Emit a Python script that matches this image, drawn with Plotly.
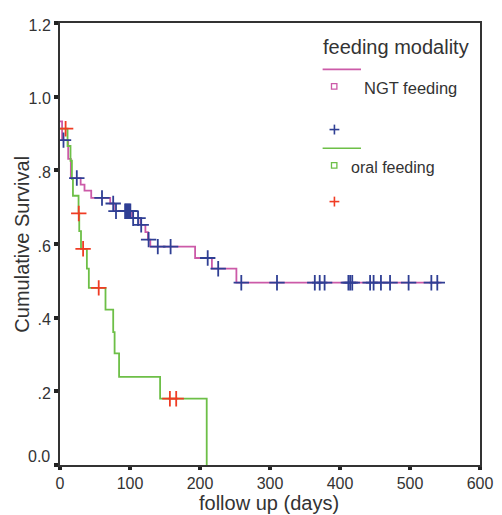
import plotly.graph_objects as go

# ---- data ----
ngt_step_days = [0, 3, 11.7, 15.5, 29.5, 35, 44.6, 71.7, 77, 103, 115, 122, 125.6, 129, 193, 217, 252, 545]
ngt_step_surv = [0.933, 0.882, 0.831, 0.779, 0.761, 0.745, 0.725, 0.710, 0.689, 0.670, 0.652, 0.632, 0.612, 0.593, 0.562, 0.533, 0.495, 0.495]
ngt_censored_days = [5, 24, 60, 76, 80, 93, 94.5, 96, 97.5, 99, 100.5, 104.5, 111.5, 116, 126.6, 139.7, 158,
                     211, 226, 259, 310, 364, 371, 378, 412, 414.5, 417.5, 443, 448, 458.5, 471.5, 498, 530.5, 539]

oral_step_days = [0, 10.8, 15, 17, 18.5, 26.5, 27.5, 30, 38.4, 41.2, 65, 76, 78, 84.4, 143, 209.6]
oral_step_surv = [0.913, 0.866, 0.826, 0.777, 0.731, 0.683, 0.635, 0.587, 0.533, 0.481, 0.422, 0.361, 0.303, 0.239, 0.180, 0.0]
oral_censored_days = [8, 26.8, 33, 55.3, 157, 166]

y_tick_vals = [0, 0.2, 0.4, 0.6, 0.8, 1.0, 1.2]
y_tick_text = ["", ".2", ".4", ".6", ".8", "1.0", "1.2"]   # "0.0" is placed separately (raised above the axis)
x_tick_vals = [0, 100, 200, 300, 400, 500, 600]

PINK = "#cc5aa8"
GREEN = "#6dbf47"
BLUE = "#2f3f94"
RED = "#f03c24"
AXC = "#333333"
FONT = "Liberation Sans, Arial, sans-serif"


def surv_at(days, surv, t):
    val = surv[0]
    for d, s in zip(days, surv):
        if d <= t:
            val = s
    return val


ngt_cens_y = [surv_at(ngt_step_days, ngt_step_surv, t) for t in ngt_censored_days]
oral_cens_y = [surv_at(oral_step_days, oral_step_surv, t) for t in oral_censored_days]

fig = go.Figure()
fig.add_trace(go.Scatter(x=ngt_step_days, y=ngt_step_surv, mode="lines", line_shape="hv",
                         line=dict(color=PINK, width=1.8), showlegend=False, hoverinfo="skip"))
fig.add_trace(go.Scatter(x=oral_step_days, y=oral_step_surv, mode="lines", line_shape="hv",
                         line=dict(color=GREEN, width=1.8), showlegend=False, hoverinfo="skip"))
fig.add_trace(go.Scatter(x=ngt_censored_days, y=ngt_cens_y, mode="markers",
                         marker=dict(symbol="cross-thin", size=11, line=dict(color=BLUE, width=1.8)),
                         showlegend=False))
fig.add_trace(go.Scatter(x=oral_censored_days, y=oral_cens_y, mode="markers",
                         marker=dict(symbol="cross-thin", size=11, line=dict(color=RED, width=1.8)),
                         showlegend=False))

# page is offset by the default 8px body margin
OFF = 8
PAGE_W, PAGE_H = 502, 515
# plot area in page pixels
L, R, T, B = 60, 487, 17, 465
W, H = R - L, B - T


def px(x):
    return (x - L) / W


def py(y):
    return (B - y) / H


shapes = []
annotations = []

# legend (drawn manually)
annotations.append(dict(text="feeding modality", x=px(325), y=py(41), xref="paper", yref="paper",
                        xanchor="left", yanchor="middle", showarrow=False,
                        font=dict(family=FONT, size=20, color=AXC)))
shapes.append(dict(type="line", xref="paper", yref="paper", x0=px(327), x1=px(366), y0=py(64), y1=py(64),
                   line=dict(color=PINK, width=1.6)))
shapes.append(dict(type="rect", xref="paper", yref="paper", x0=px(336), x1=px(341.5), y0=py(78.5), y1=py(84),
                   line=dict(color=PINK, width=1.3)))
annotations.append(dict(text="NGT feeding", x=px(367), y=py(83), xref="paper", yref="paper",
                        xanchor="left", yanchor="middle", showarrow=False,
                        font=dict(family=FONT, size=16.5, color=AXC)))
for cy, col in [(125, BLUE), (198, RED)]:
    shapes.append(dict(type="line", xref="paper", yref="paper", x0=px(334), x1=px(344), y0=py(cy), y1=py(cy),
                       line=dict(color=col, width=1.6)))
    shapes.append(dict(type="line", xref="paper", yref="paper", x0=px(339), x1=px(339), y0=py(cy - 5), y1=py(cy + 5),
                       line=dict(color=col, width=1.6)))
shapes.append(dict(type="line", xref="paper", yref="paper", x0=px(327), x1=px(366), y0=py(144), y1=py(144),
                   line=dict(color=GREEN, width=1.6)))
shapes.append(dict(type="rect", xref="paper", yref="paper", x0=px(336), x1=px(341.5), y0=py(158.5), y1=py(164),
                   line=dict(color=GREEN, width=1.3)))
annotations.append(dict(text="oral feeding", x=px(354), y=py(163), xref="paper", yref="paper",
                        xanchor="left", yanchor="middle", showarrow=False,
                        font=dict(family=FONT, size=16, color=AXC)))

# raised "0.0" tick label
annotations.append(dict(text="0.0", x=px(52), y=py(456), xref="paper", yref="paper",
                        xanchor="right", yanchor="middle", showarrow=False,
                        font=dict(family=FONT, size=16, color=AXC)))

# axis titles
annotations.append(dict(text="Cumulative Survival", x=px(21), y=py(241), xref="paper", yref="paper",
                        xanchor="center", yanchor="middle", textangle=-90, showarrow=False,
                        font=dict(family=FONT, size=20, color=AXC)))
annotations.append(dict(text="follow up (days)", x=px(272), y=py(504), xref="paper", yref="paper",
                        xanchor="center", yanchor="middle", showarrow=False,
                        font=dict(family=FONT, size=20, color=AXC)))

fig.update_layout(
    width=PAGE_W - OFF, height=PAGE_H - OFF,
    margin=dict(l=L - OFF, r=PAGE_W - R, t=T - OFF, b=PAGE_H - B, pad=0),
    paper_bgcolor="white", plot_bgcolor="white",
    font=dict(family=FONT, size=16, color=AXC),
    shapes=shapes, annotations=annotations,
    showlegend=False,
)
fig.update_xaxes(range=[0, 600], tickvals=x_tick_vals, ticks="outside", ticklen=3, tickwidth=4,
                 tickcolor="#222222", showline=True, linecolor=AXC, linewidth=2, mirror=True,
                 showgrid=False, zeroline=False, tickfont=dict(size=16, color=AXC))
fig.update_yaxes(range=[0, 1.2], tickvals=y_tick_vals, ticktext=y_tick_text, ticks="outside", ticklen=4,
                 tickwidth=4, tickcolor="#222222", showline=True, linecolor=AXC, linewidth=2, mirror=True,
                 showgrid=False, zeroline=False, tickfont=dict(size=16, color=AXC), ticklabelshift=2)

fig.write_html("out.html")
